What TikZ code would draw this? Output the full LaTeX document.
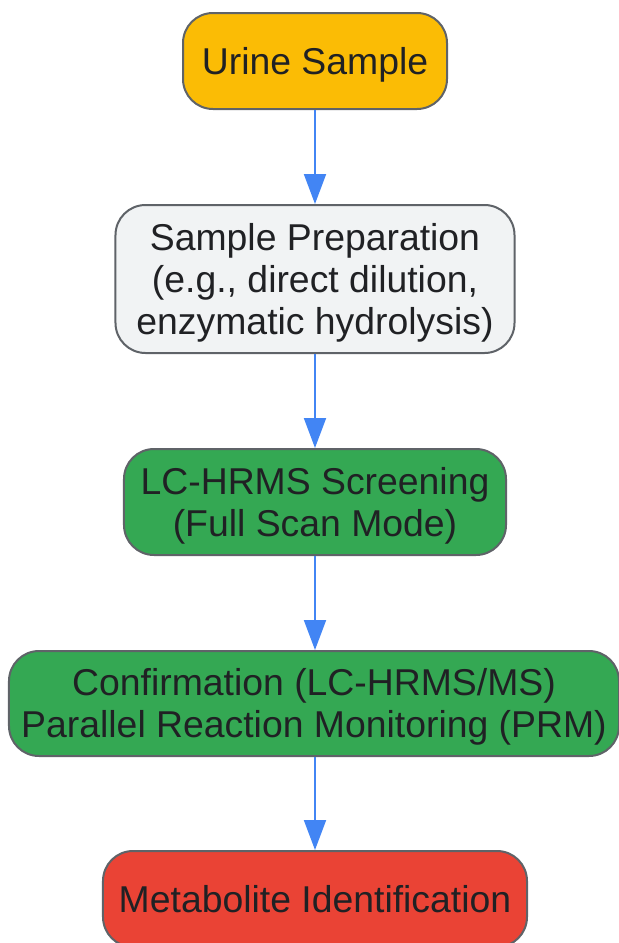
\documentclass[tikz,border=0pt]{standalone}
\usepackage{fontspec}
\setmainfont{Liberation Sans}
\usetikzlibrary{arrows.meta}
\definecolor{urineyellow}{HTML}{FBBC05}
\definecolor{prepgray}{HTML}{F1F3F4}
\definecolor{screengreen}{HTML}{34A853}
\definecolor{identred}{HTML}{EA4335}
\definecolor{edgegray}{HTML}{5F6368}
\definecolor{flowblue}{HTML}{4285F4}
\definecolor{inkdark}{HTML}{202124}
\newcommand{\boxlines}[1]{\raisebox{-5bp}[\height][\depth]{\begin{tabular}{@{}c@{}}#1\end{tabular}}}

\begin{document}
\begin{tikzpicture}[x=1bp,y=1bp,
	box/.style={draw=edgegray, line width=2bp, rounded corners=30bp,
		inner sep=0pt, text=inkdark, font=\fontsize{37.5}{42}\selectfont},
	flow/.style={draw=flowblue, line width=2bp, -{Triangle[length=30bp,width=22bp]}}]
	\useasboundingbox (0,0) rectangle (619,-943);
	\node[box, fill=urineyellow, minimum width=264bp, minimum height=96bp] (urine) at (315,-61) {\boxlines{Urine Sample}};
	\node[box, fill=prepgray, minimum width=399bp, minimum height=148bp] (prep) at (315,-279) {\boxlines{Sample Preparation\\(e.g., direct dilution,\\enzymatic hydrolysis)}};
	\node[box, fill=screengreen, minimum width=382bp, minimum height=106bp] (screen) at (315,-502) {\boxlines{LC-HRMS Screening\\(Full Scan Mode)}};
	\node[box, fill=screengreen, minimum width=610bp, minimum height=105bp] (confirm) at (314,-703.5) {\boxlines{Confirmation (LC-HRMS/MS)\\Parallel Reaction Monitoring (PRM)}};
	\node[box, fill=identred, minimum width=424bp, minimum height=96bp] (ident) at (315,-899) {\boxlines{Metabolite Identification}};
	\draw [flow] (urine) -- (prep);
	\draw [flow] (prep) -- (screen);
	\draw [flow] (screen.south) -- (screen.south |- confirm.north);
	\draw [flow] (confirm.south -| ident.north) -- (ident);
\end{tikzpicture}
\end{document}
